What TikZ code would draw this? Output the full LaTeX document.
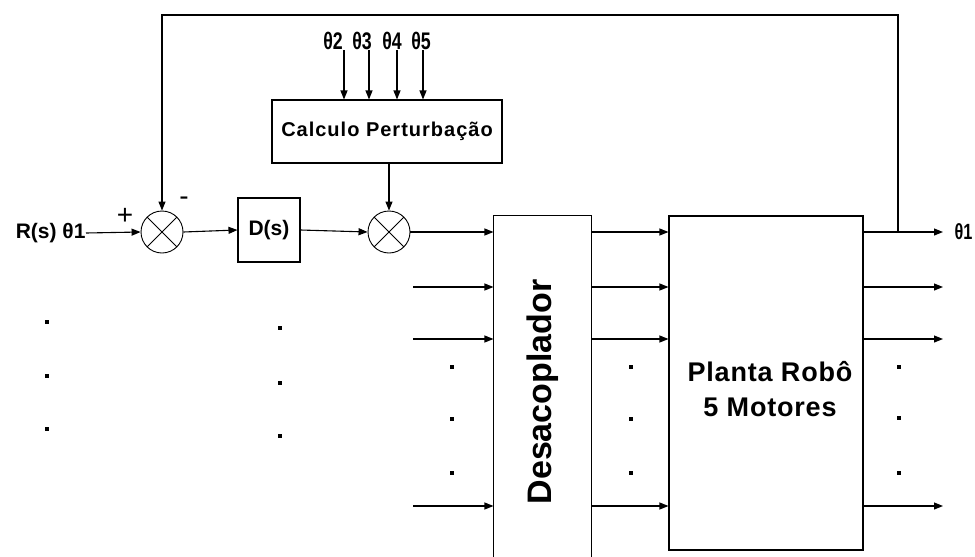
\documentclass[tikz,border=0pt]{standalone}
\usepackage{fontspec}
\usepackage{graphicx}
\setmainfont{Liberation Sans}
\usetikzlibrary{arrows.meta}
\newfontfamily\spacedfont[LetterSpace=5]{Liberation Sans}
\newfontfamily\plantfont[LetterSpace=3]{Liberation Sans}
\newcommand{\narrowtxt}[1]{\scalebox{0.74}[1]{#1}}
\begin{document}
\begin{tikzpicture}[x=1pt,y=-1pt,
  line width=1.1pt,
  arr/.style={-{Triangle[length=9pt,width=7pt]}},
  blk/.style={draw,line width=1.1pt,inner sep=0pt},
  sumnode/.style={draw,circle,line width=0.9pt,minimum size=42pt,inner sep=0pt,
    path picture={\draw[line width=0.8pt] (path picture bounding box.south west) ++(6,-6) -- ++(30,-30)
      (path picture bounding box.north west) ++(6,6) -- ++(30,30);}},
  dotn/.style={fill,minimum size=3.5pt,inner sep=0pt},
  lbl/.style={inner sep=0pt,font=\fontsize{24}{26}\selectfont\bfseries}]
\useasboundingbox (0,0) rectangle (975,557);

% main chain
\node[inner sep=0pt,anchor=east,font=\fontsize{21}{24}\selectfont\bfseries] (r) at (86,233) {R(s) θ1};
\node[sumnode] (s1) at (162,232) {};
\node[blk,minimum width=62pt,minimum height=64pt,font=\fontsize{21}{23}\selectfont\bfseries] (d) at (269,230) {D(s)};
\node[sumnode] (s2) at (389,232) {};
\node[blk,minimum width=230pt,minimum height=63pt,font=\fontsize{20}{22}\spacedfont\bfseries] (calc) at (387,131.5) {Calculo Perturbação};
\node[inner sep=0pt,font=\fontsize{28}{30}\selectfont] (plus) at (125,216) {+};
\node[inner sep=0pt,font=\fontsize{28}{30}\selectfont] (minus) at (184,201) {-};

% theta inputs
\node[lbl] (l2) at (333,41) {\narrowtxt{θ2}};
\node[lbl] (l3) at (362,41) {\narrowtxt{θ3}};
\node[lbl] (l4) at (392,41) {\narrowtxt{θ4}};
\node[lbl] (l5) at (421,41) {\narrowtxt{θ5}};
\coordinate (t2) at (344,50);
\coordinate (t3) at (369,50);
\coordinate (t4) at (397,50);
\coordinate (t5) at (423,50);
\foreach \t in {t2,t3,t4,t5} \draw[arr] (\t) -- (\t |- calc.north);

% desacoplador and planta
\node[minimum width=97pt,minimum height=341pt,inner sep=0pt] (des) at (542.5,386.5) {};
\draw (des.south west) -- (des.north west) -- (des.north east) -- (des.south east);
\node[rotate=90,inner sep=0pt,font=\fontsize{34}{36}\selectfont\bfseries] (destext) at (542.5,392) {Desacoplador};
\node[blk,minimum width=194pt,minimum height=334pt] (pl) at (766,383) {};
\node[align=center,inner sep=0pt,font=\fontsize{27}{35}\plantfont\bfseries] (pltext) at (770,389) {Planta Robô\\5 Motores};

% connections
\draw[arr] (r.east) -- (s1.west);
\draw[arr] (s1.east) -- (d.west);
\draw[arr] (d.east) -- (s2.west);
\draw[arr] (calc.south -| s2.north) -- (s2.north);
\draw[arr] (s2.east) -- (s2.east -| des.west);

\coordinate (i2) at (413,287);
\coordinate (i3) at (413,339);
\coordinate (i4) at (413,506);
\foreach \i in {i2,i3,i4} \draw[arr] (\i) -- (\i -| des.west);
\foreach \y in {232,287,339,506} {
  \coordinate (a\y) at (591,\y);
  \draw[arr] (a\y) -- (a\y -| pl.west);
  \coordinate (b\y) at (863,\y);
  \coordinate (e\y) at (943,\y);
  \draw[arr] (b\y) -- (e\y);
}
\node[lbl,anchor=west,font=\fontsize{22}{24}\selectfont\bfseries] (out) at (954,232) {\narrowtxt{θ1}};

% feedback
\coordinate (f0) at (898,232);
\coordinate (f1) at (898,15);
\draw[arr] (f0) -- (f1) -- (f1 -| s1.north) -- (s1.north);

% dots
\foreach \x/\a/\b/\c in {47/322/376/429, 280/328/383/436, 452/367/419/473, 631/367/419/473, 899/367/418/473} {
  \node[dotn] at (\x,\a) {};
  \node[dotn] at (\x,\b) {};
  \node[dotn] at (\x,\c) {};
}
\end{tikzpicture}
\end{document}
